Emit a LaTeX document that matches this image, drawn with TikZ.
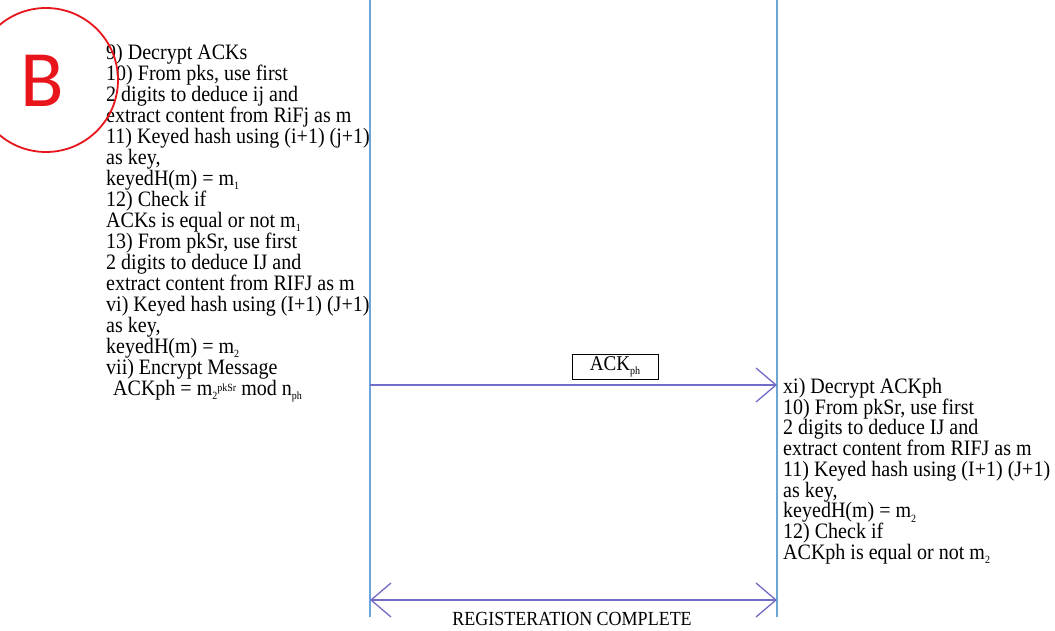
\documentclass[tikz,border=0pt]{standalone}
\usepackage{fontspec}
\setmainfont{Liberation Serif}[FakeStretch=0.91]
\newfontfamily\condfont{Liberation Serif}[FakeStretch=0.9]
\newfontfamily\bigbfont{Carlito}
\usetikzlibrary{arrows.meta}
\definecolor{lifeblue}{RGB}{110,165,215}
\definecolor{arrowpurple}{RGB}{112,108,200}
\definecolor{markred}{RGB}{232,22,28}
\newcommand{\lowsub}[1]{\raisebox{-4.5pt}{\fontsize{11}{11}\selectfont #1}}
\newcommand{\hisup}[1]{\raisebox{4pt}{\fontsize{11}{11}\selectfont #1}}
\begin{document}
\begin{tikzpicture}[x=1pt,y=-1pt,
  lifeline/.style={draw=lifeblue, line width=1.6pt},
  msg/.style={draw=arrowpurple, line width=1.1pt},
  vtip/.style={-{Straight Barb[length=20pt,width=34pt,line width=1.3pt]}},
  vtips/.style={{Straight Barb[length=20pt,width=34pt,line width=1.3pt]}-{Straight Barb[length=20pt,width=34pt,line width=1.3pt]}},
  steps/.style={align=left, anchor=north west, inner sep=0pt, font=\fontsize{22}{21}\selectfont},
  stepsr/.style={align=left, anchor=north west, inner sep=0pt, font=\fontsize{22}{20.75}\selectfont},
  label/.style={inner sep=0pt, font=\condfont\fontsize{20}{20}\selectfont}
]
\useasboundingbox (0,0) rectangle (1055,631);
\clip (0,0) rectangle (1055,631);
\fill[white] (0,0) rectangle (1055,631);

% lifelines
\coordinate (Ltop) at (370,0);
\coordinate (Lbot) at (370,617);
\coordinate (Rtop) at (777,0);
\coordinate (Rbot) at (777,617);
\draw[lifeline] (Ltop) -- (Lbot);
\draw[lifeline] (Rtop) -- (Rbot);

% left steps
\node[steps] (leftsteps) at (106,44) {9) Decrypt ACKs\\
10) From pks, use first\\
2 digits to deduce ij and\\
extract content from RiFj as m\\
11) Keyed hash using (i+1) (j+1)\\
as key,\\
keyedH(m) = m\lowsub{1}\\
12) Check if\\
ACKs is equal or not m\lowsub{1}\\
13) From pkSr, use first\\
2 digits to deduce IJ and\\
extract content from RIFJ as m\\
vi) Keyed hash using (I+1) (J+1)\\
as key,\\
keyedH(m) = m\lowsub{2}\\
vii) Encrypt Message\\
\hspace*{7pt}ACKph = m\lowsub{2}\hisup{pkSr} mod n\lowsub{ph}};

% message ACKph
\coordinate (a1) at (370,385);
\coordinate (b1) at (777,385);
\draw[msg, vtip] (a1) -- (b1);
\node[draw=black, line width=0.8pt, minimum width=86pt, minimum height=25pt, inner sep=0pt, font=\fontsize{21}{21}\selectfont] (ackbox) at (615,366.5) {ACK\lowsub{ph}};

% right steps
\node[stepsr] (rightsteps) at (783,378) {xi) Decrypt ACKph\\
10) From pkSr, use first\\
2 digits to deduce IJ and\\
extract content from RIFJ as m\\
11) Keyed hash using (I+1) (J+1)\\
as key,\\
keyedH(m) = m\lowsub{2}\\
12) Check if\\
ACKph is equal or not m\lowsub{2}};

% registration complete
\coordinate (a2) at (370,600);
\coordinate (b2) at (777,600);
\draw[msg, vtips] (a2) -- (b2);
\node[label, anchor=base] (regdone) at (572,625) {REGISTERATION COMPLETE};

% red B mark
\node[inner sep=0pt, anchor=base, text=markred, font=\bigbfont\fontsize{80}{80}\selectfont] (bmark) at (42,107) {B};
\draw[markred, line width=1.8pt] (46,80) circle[radius=72];
\end{tikzpicture}
\end{document}
